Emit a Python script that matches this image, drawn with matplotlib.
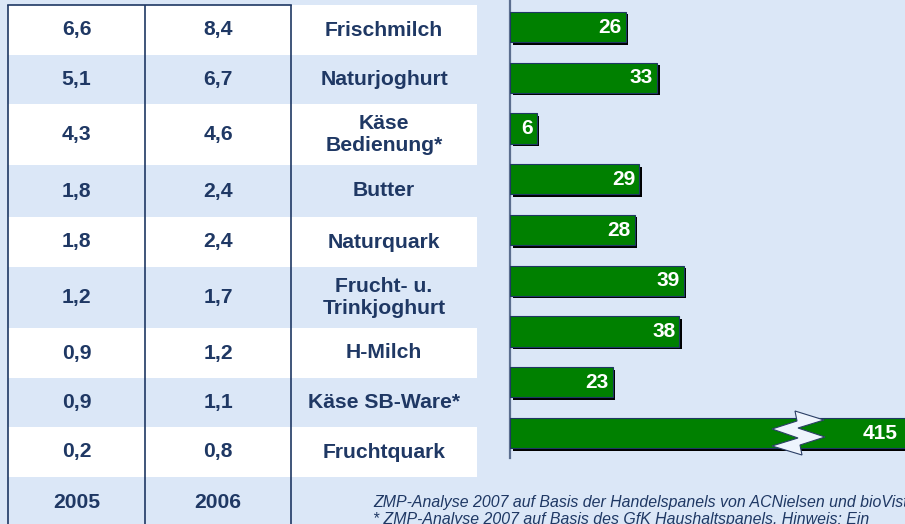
import matplotlib
matplotlib.use("Agg")
import matplotlib.pyplot as plt
from matplotlib.patches import Rectangle, Polygon
import matplotlib.patheffects as pe

plt.rcParams['font.family'] = ['Liberation Sans', 'DejaVu Sans']

# ---- data ----
products = ["Frischmilch", "Naturjoghurt", "Käse\nBedienung*", "Butter", "Naturquark",
            "Frucht- u.\nTrinkjoghurt", "H-Milch", "Käse SB-Ware*", "Fruchtquark"]
values_2005 = [6.6, 5.1, 4.3, 1.8, 1.8, 1.2, 0.9, 0.9, 0.2]
values_2006 = [8.4, 6.7, 4.6, 2.4, 2.4, 1.7, 1.2, 1.1, 0.8]
growth = [26, 33, 6, 29, 28, 39, 38, 23, 415]
years = ["2005", "2006"]
footnote = ["ZMP-Analyse 2007 auf Basis der Handelspanels von ACNielsen und bioVista",
            "* ZMP-Analyse 2007 auf Basis des GfK Haushaltspanels. Hinweis: Ein"]

# ---- style ----
BG = "#dbe7f7"
NAVY = "#1f3864"
GREEN = "#008000"
W, H = 905, 524

fig = plt.figure(figsize=(W / 100, H / 100), dpi=100, facecolor=BG)

# background / table axes in pixel coordinates
axt = fig.add_axes([0, 0, 1, 1])
axt.set_xlim(0, W)
axt.set_ylim(H, 0)
axt.axis("off")
axt.set_facecolor(BG)

row_edges = [5, 55, 104, 165, 217, 267, 328, 378, 427, 477, 531]
col_x = [8, 145, 291, 477]

for i in range(len(products)):
    if i % 2 == 0:
        axt.add_patch(Rectangle((col_x[0], row_edges[i]), col_x[3] - col_x[0],
                                row_edges[i + 1] - row_edges[i],
                                facecolor="white", edgecolor="none", zorder=1))

txt_kw = dict(ha="center", va="center", color=NAVY, fontsize=15.2, fontweight="bold", zorder=5)
for i, (p, a, b) in enumerate(zip(products, values_2005, values_2006)):
    yc = (row_edges[i] + row_edges[i + 1]) / 2
    axt.text((col_x[0] + col_x[1]) / 2, yc, f"{a:.1f}".replace(".", ","), **txt_kw)
    axt.text((col_x[1] + col_x[2]) / 2, yc, f"{b:.1f}".replace(".", ","), **txt_kw)
    axt.text((col_x[2] + col_x[3]) / 2, yc, p, **txt_kw)

yc = (row_edges[-2] + row_edges[-1]) / 2 - 1
axt.text((col_x[0] + col_x[1]) / 2, yc, years[0], **txt_kw)
axt.text((col_x[1] + col_x[2]) / 2, yc, years[1], **txt_kw)

# table lines
for x in col_x[:3]:
    axt.plot([x, x], [4.5, H], color=NAVY, lw=1.2, zorder=4, solid_capstyle="butt")
axt.plot([col_x[0], col_x[2]], [4.5, 4.5], color=NAVY, lw=1.2, zorder=4)

# footnote
for k, line in enumerate(footnote):
    axt.text(373, 502 + k * 17.5, line, ha="left", va="center", color=NAVY,
             fontsize=11.4, fontstyle="italic", zorder=5)

# ---- bar chart axes ----
left_px, bottom_px, top_px = 510, 458, 0
axb = fig.add_axes([left_px / W, (H - bottom_px) / H, (W - left_px) / W, (bottom_px - top_px) / H])
axb.patch.set_visible(False)
xmax = (W - left_px) / 4.46
axb.set_xlim(0, xmax)
n = len(growth)
step = 50.75
axb.set_ylim((bottom_px - 27) / step, -27 / step)
for s in ["top", "right", "bottom"]:
    axb.spines[s].set_visible(False)
axb.spines["left"].set_color("#5b6e8f")
axb.spines["left"].set_linewidth(1.6)
axb.set_xticks([])
axb.set_yticks([])

bars = axb.barh(range(n), growth, height=0.6, color=GREEN, edgecolor=NAVY, linewidth=0.8,
                zorder=3)
for b in bars:
    b.set_path_effects([pe.SimplePatchShadow(offset=(1.8, -1.8), shadow_rgbFace="black", alpha=1.0),
                        pe.Normal()])

for i, v in enumerate(growth):
    xpos = min(v, xmax)
    pad = -3 if v <= xmax else -5
    axb.annotate(str(v), (xpos, i), xytext=(pad, 0), textcoords="offset points",
                 ha="right", va="center", color="white", fontsize=15, fontweight="bold",
                 zorder=6)

# axis-break marker on the overflowing bar (pixel coords)
brk = [(795, 411), (824, 420), (798, 428), (825, 437), (800, 445), (802, 455),
       (772, 446), (798, 438), (772, 429), (797, 421)]
axt2 = fig.add_axes([0, 0, 1, 1])
axt2.set_xlim(0, W)
axt2.set_ylim(H, 0)
axt2.axis("off")
axt2.patch.set_visible(False)
axt2.add_patch(Polygon(brk, closed=True, facecolor="#eef4fd", edgecolor="#2b3f66", linewidth=0.8))

fig.savefig("out.png", dpi=100, facecolor=BG)
